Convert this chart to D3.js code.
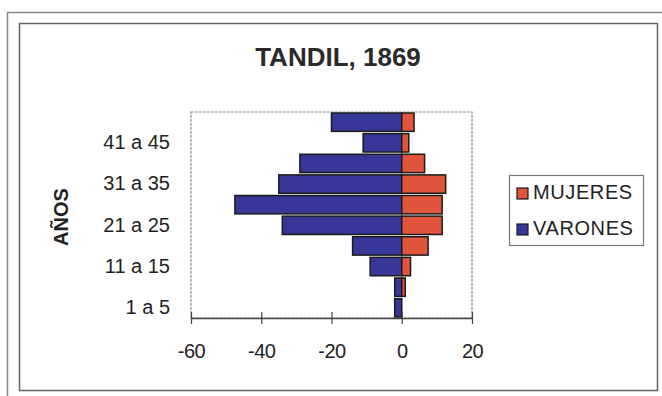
<!DOCTYPE html>
<html>
<head>
<meta charset="utf-8">
<script src="https://cdn.jsdelivr.net/npm/d3@7"></script>
<style>
  html, body { margin: 0; padding: 0; background: #fff; }
  svg { display: block; font-family: Arial, "Liberation Sans", sans-serif; }
</style>
</head>
<body>
<div id="chart"></div>
<script>
// Age groups, bottom to top
const ageGroups = ['1 a 5', '6 a 10', '11 a 15', '16 a 20', '21 a 25',
                   '26 a 30', '31 a 35', '36 a 40', '41 a 45', '46 a 50'];
// Men plotted to the left (negative), women to the right
const varones = [-2, -2, -9, -14, -34, -47.5, -35, -29, -11, -20];
const mujeres = [0, 1, 2.5, 7.5, 11.5, 11.5, 12.5, 6.5, 2, 3.5];
const xTicks = [-60, -40, -20, 0, 20];
const shownLabels = ['1 a 5', '11 a 15', '21 a 25', '31 a 35', '41 a 45'];

const W = 662, H = 396;
const plot = { left: 191, right: 472, top: 112, bottom: 318 };
const colors = { mujeres: '#e0553b', varones: '#37379a' };

const svg = d3.select('#chart').append('svg')
  .attr('width', W)
  .attr('height', H);

// Outer page frame and chart frame
svg.append('rect')
  .attr('x', 7.5).attr('y', 12.5)
  .attr('width', 700).attr('height', 420)
  .attr('fill', 'none').attr('stroke', '#8a8a8a').attr('stroke-width', 1.5);
svg.append('rect')
  .attr('x', 19.5).attr('y', 23.5)
  .attr('width', 638).attr('height', 367)
  .attr('fill', '#fff').attr('stroke', '#666').attr('stroke-width', 1.5);

// Scales
const x = d3.scaleLinear().domain([-60, 20]).range([plot.left, plot.right]);
const y = d3.scaleBand().domain(ageGroups)
  .range([plot.bottom, plot.top])
  .paddingInner(0.11)
  .paddingOuter(0.05);

// Plot area border (dotted in the scan)
svg.append('rect')
  .attr('x', plot.left).attr('y', plot.top)
  .attr('width', plot.right - plot.left).attr('height', plot.bottom - plot.top)
  .attr('fill', 'none').attr('stroke', '#8c8c8c').attr('stroke-width', 1.2)
  .attr('stroke-dasharray', '3,1');

// Bars
const barGroup = svg.append('g');
const series = [
  { key: 'varones', values: varones },
  { key: 'mujeres', values: mujeres }
];
series.forEach(s => {
  barGroup.selectAll('.bar-' + s.key)
    .data(ageGroups.map((g, i) => ({ group: g, value: s.values[i] })))
    .enter().append('rect')
    .attr('class', 'bar-' + s.key)
    .attr('x', d => x(Math.min(0, d.value)))
    .attr('y', d => y(d.group))
    .attr('width', d => Math.abs(x(d.value) - x(0)))
    .attr('height', y.bandwidth())
    .attr('fill', colors[s.key])
    .attr('stroke', '#1a1a1a')
    .attr('stroke-width', 1.5);
});

// X axis with cross ticks
const xAxis = d3.axisBottom(x)
  .tickValues(xTicks)
  .tickSizeInner(6)
  .tickSizeOuter(0)
  .tickPadding(20)
  .tickFormat(d => String(d));

const xg = svg.append('g')
  .attr('transform', `translate(0,${plot.bottom})`)
  .call(xAxis);
xg.select('.domain').attr('stroke', '#444').attr('stroke-width', 1.5);
xg.selectAll('.tick line')
  .attr('y1', -6).attr('y2', 6)
  .attr('stroke', '#444').attr('stroke-width', 1.2);
xg.selectAll('.tick text')
  .attr('fill', '#222')
  .attr('font-size', '20px')
  .attr('font-family', 'Arial, "Liberation Sans", sans-serif')
  .attr('letter-spacing', '-0.5px');

// Y axis labels (every other category)
const yAxis = d3.axisLeft(y)
  .tickValues(shownLabels)
  .tickSize(0)
  .tickPadding(21);
const yg = svg.append('g')
  .attr('transform', `translate(${plot.left},0)`)
  .call(yAxis);
yg.select('.domain').remove();
yg.selectAll('.tick text')
  .attr('fill', '#222')
  .attr('font-size', '20px')
  .attr('font-family', 'Arial, "Liberation Sans", sans-serif');

// Y axis title
svg.append('text')
  .attr('transform', 'translate(68,217) rotate(-90)')
  .attr('text-anchor', 'middle')
  .attr('fill', '#222')
  .attr('font-size', '20px')
  .attr('font-weight', 'bold')
  .text('AÑOS');

// Title
svg.append('text')
  .attr('x', 338)
  .attr('y', 66)
  .attr('text-anchor', 'middle')
  .attr('fill', '#2a2a2a')
  .attr('font-size', '26px')
  .attr('font-weight', 'bold')
  .text('TANDIL, 1869');

// Legend
const legend = svg.append('g');
legend.append('rect')
  .attr('x', 509.5).attr('y', 175.5)
  .attr('width', 134).attr('height', 70)
  .attr('fill', '#fff').attr('stroke', '#777').attr('stroke-width', 1.2);
const legendItems = [
  { label: 'MUJERES', color: colors.mujeres },
  { label: 'VARONES', color: colors.varones }
];
legendItems.forEach((d, i) => {
  const ly = 199 + i * 36;
  legend.append('rect')
    .attr('x', 517).attr('y', ly - 11)
    .attr('width', 11).attr('height', 11)
    .attr('fill', d.color).attr('stroke', '#1a1a1a').attr('stroke-width', 1.2);
  legend.append('text')
    .attr('x', 533).attr('y', ly)
    .attr('fill', '#222')
    .attr('font-size', '20px')
    .attr('letter-spacing', '0.6px')
    .text(d.label);
});
</script>
</body>
</html>
